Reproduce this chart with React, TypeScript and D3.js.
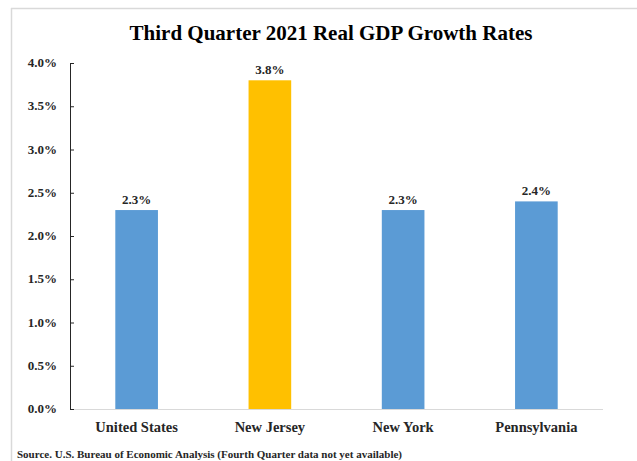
import * as d3 from "d3";

const W = 637, H = 461;
const M = { left: 70, right: 34, top: 63, bottom: 52 };

const categories = ["United States", "New Jersey", "New York", "Pennsylvania"];
const values = [2.3, 3.8, 2.3, 2.4];
const barColors = ["#5B9BD5", "#FFC000", "#5B9BD5", "#5B9BD5"];
const yTicks = [0, 0.5, 1, 1.5, 2, 2.5, 3, 3.5, 4];

const FONT = "'Liberation Serif', 'DejaVu Serif', serif";

export default function App() {
  const x = d3.scaleBand(categories, [M.left, W - M.right]).paddingInner(0.68).paddingOuter(0.34);
  const y = d3.scaleLinear([0, 4], [H - M.bottom, M.top]);
  const y0 = y(0);

  return (
    <svg width={W} height={H} style={{ position: "absolute", left: 0, top: 0, background: "#fff" }}>
      {/* frame */}
      <line x1={11.5} y1={8} x2={11.5} y2={H} stroke="#D9D9D9" strokeWidth="1.5" />
      <line x1={11} y1={8.5} x2={W} y2={8.5} stroke="#D9D9D9" strokeWidth="1.5" />

      <text x={331} y={40} textAnchor="middle" fontFamily={FONT} fontWeight="bold" fontSize="21" fill="#000">
        Third Quarter 2021 Real GDP Growth Rates
      </text>

      {/* bars */}
      {categories.map((c, i) => (
        <g key={c}>
          <rect x={x(c)} y={y(values[i])} width={x.bandwidth()} height={y0 - y(values[i])} fill={barColors[i]} />
          <text x={x(c)! + x.bandwidth() / 2} y={y(values[i]) - 6} textAnchor="middle"
            fontFamily={FONT} fontWeight="bold" fontSize="13" fill="#262626">
            {values[i].toFixed(1)}%
          </text>
          <text x={x(c)! + x.bandwidth() / 2} y={y0 + 23} textAnchor="middle"
            fontFamily={FONT} fontWeight="bold" fontSize="14.5" fill="#262626">
            {c}
          </text>
        </g>
      ))}

      {/* x axis */}
      <line x1={M.left} y1={y0 + 0.5} x2={W - M.right} y2={y0 + 0.5} stroke="#D9D9D9" strokeWidth="1" />

      {/* y axis */}
      <line x1={M.left + 0.5} y1={M.top} x2={M.left + 0.5} y2={y0} stroke="#262626" strokeWidth="1" />
      {yTicks.map((t) => (
        <g key={t}>
          <line x1={M.left} y1={y(t) + 0.5} x2={M.left + 4} y2={y(t) + 0.5} stroke="#262626" strokeWidth="1" />
          <text x={M.left - 13} y={y(t) + 4} textAnchor="end"
            fontFamily={FONT} fontWeight="bold" fontSize="13" fill="#262626">
            {t.toFixed(1)}%
          </text>
        </g>
      ))}

      <text x={17} y={458} fontFamily={FONT} fontWeight="bold" fontSize="11" fill="#262626">
        Source. U.S. Bureau of Economic Analysis (Fourth Quarter data not yet available)
      </text>
    </svg>
  );
}
